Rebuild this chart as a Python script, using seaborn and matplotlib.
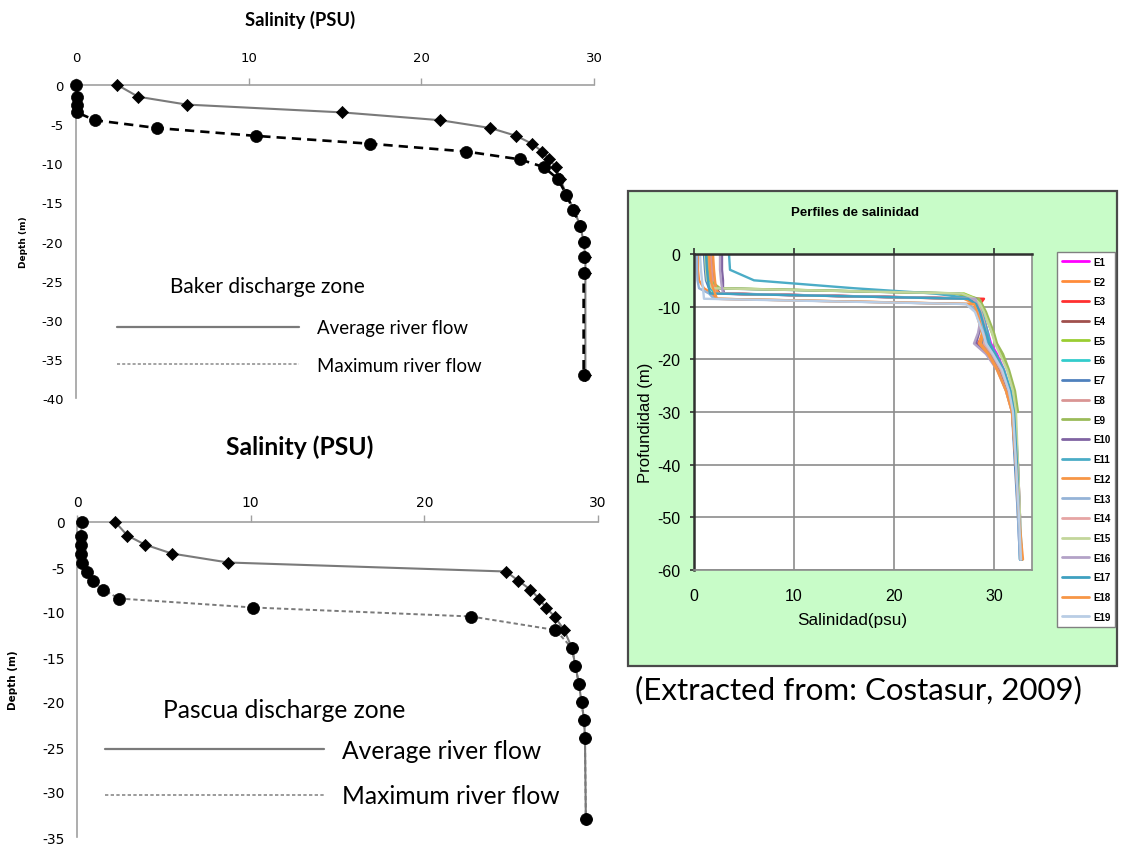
import numpy as np
import pandas as pd
import matplotlib
matplotlib.use("Agg")
import matplotlib.pyplot as plt
import seaborn as sns
from matplotlib.lines import Line2D
from matplotlib.patches import Rectangle

# ---------------- data ----------------
# Baker discharge zone
baker_depth = [0, -1.5, -2.5, -3.5, -4.5, -5.5, -6.5, -7.5, -8.5, -9.5, -10.5,
               -12, -14, -16, -18, -20, -22, -24, -37]
baker_avg = [2.4, 3.6, 6.4, 15.4, 21.1, 24.0, 25.5, 26.4, 27.0, 27.4, 27.8,
             28.05, 28.4, 28.85, 29.2, 29.4, 29.5, 29.5, 29.5]
baker_max = [0.0, 0.05, 0.05, 0.05, 1.1, 4.7, 10.4, 17.0, 22.6, 25.7, 27.1,
             27.9, 28.4, 28.8, 29.2, 29.4, 29.4, 29.4, 29.4]

# Pascua discharge zone
pascua_depth = [0, -1.5, -2.5, -3.5, -4.5, -5.5, -6.5, -7.5, -8.5, -9.5, -10.5,
                -12, -14, -16, -18, -20, -22, -24, -33]
pascua_avg = [2.2, 2.9, 3.9, 5.45, 8.7, 24.7, 25.4, 26.1, 26.6, 27.0, 27.5,
              28.05, 28.5, 28.7, 28.9, 29.05, 29.2, 29.25, 29.3]
pascua_max = [0.28, 0.23, 0.23, 0.23, 0.28, 0.58, 0.92, 1.5, 2.4, 10.15, 22.7,
              27.55, 28.5, 28.7, 28.9, 29.05, 29.2, 29.25, 29.3]

# Costasur (2009) salinity profiles
prof_levels = [0, -3, -5, -6.5, -7.5, -8.5, -9.5, -11, -13, -15, -17, -19,
               -22, -26, -30, -40, -50, -58]
E1 = [1.4, 1.5, 1.6, 1.8, 2.0, 27.5, 28.3, 28.7, 29.1, 29.4, 29.7, 30.3, 31.0, 31.6, 32.0, 32.3, 32.5, 32.7]
E2 = [0.4, 0.4, 0.5, 1.0, 1.8, 2.2, 27.6, 28.2, 28.5, 28.8, 29.1, 29.8, 30.6, 31.3, 31.8, 32.2, 32.5, 32.8]
E3 = [1.6, 1.7, 1.8, 2.0, 2.4, 29.0, 28.6, 28.7, 28.9, 29.0, 28.4, 29.6, 30.7, 31.5, 32.0, 32.4, 32.6]
E4 = [1.8, 1.9, 2.0, 2.2, 2.6, 28.0, 28.4, 28.6, 28.8, 29.1, 28.6, 29.4, 30.5, 31.4, 31.9, 32.3, 32.5, 32.7]
E5 = [1.2, 1.3, 1.5, 2.3, 27.0, 28.3, 28.7, 29.0, 29.4, 29.8, 30.2, 30.8, 31.4, 32.0, 32.3]
E6 = [1.3, 1.4, 1.5, 1.7, 2.0, 27.8, 28.5, 28.8, 29.0, 29.3, 29.6, 30.1, 30.9, 31.6, 32.0, 32.3, 32.5, 32.6]
E7 = [1.0, 1.1, 1.2, 1.5, 26.5, 27.8, 28.3, 28.6, 28.9, 29.0, 28.8, 29.7, 30.6, 31.4, 31.8, 32.1, 32.4, 32.6]
E8 = [1.7, 1.8, 1.9, 2.1, 2.5, 27.3, 28.2, 28.5, 28.8, 29.1, 29.3, 29.9, 30.7, 31.4, 31.9, 32.2, 32.5, 32.7]
E9 = [1.3, 1.4, 1.6, 2.6, 26.0, 28.5, 28.8, 29.2, 29.6, 30.0, 30.3, 30.9, 31.5, 32.1, 32.4]
E10 = [2.8, 2.8, 2.9, 2.9, 3.0, 28.2, 28.4, 28.6, 28.7, 28.5, 28.2, 29.3, 30.4, 31.3, 31.9, 32.3, 32.5, 32.7]
E11 = [3.5, 3.6, 6.0, 16.0, 24.0, 28.0, 28.5, 28.8, 29.1, 29.4, 29.6, 30.2, 31.0, 31.7, 32.1, 32.4, 32.6, 32.8]
E12 = [1.9, 2.0, 2.1, 2.2, 2.4, 27.0, 28.1, 28.4, 28.7, 28.9, 28.7, 29.5, 30.4, 31.2, 31.8, 32.2, 32.5, 32.8]
E13 = [0.3, 0.3, 0.35, 0.5, 1.5, 2.0, 27.5, 28.3, 28.7, 29.0, 29.4, 30.0, 30.8, 31.5, 31.9, 32.2, 32.4, 32.6]
E14 = [1.5, 1.6, 1.7, 1.9, 2.2, 27.9, 28.4, 28.7, 29.0, 29.2, 29.0, 29.8, 30.7, 31.5, 31.9, 32.3, 32.6, 32.7]
E15 = [1.1, 1.2, 1.3, 1.8, 26.8, 28.1, 28.6, 29.0, 29.4, 29.8, 30.1, 30.6, 31.3, 31.9, 32.2, 32.4, 32.6, 32.7]
E16 = [2.6, 2.6, 2.7, 2.8, 2.9, 28.1, 28.3, 28.5, 28.6, 28.4, 28.0, 29.2, 30.3, 31.2, 31.8, 32.2, 32.5, 32.7]
E17 = [1.2, 1.3, 1.4, 1.5, 1.6, 27.4, 28.2, 28.6, 28.9, 29.2, 29.5, 30.1, 30.9, 31.6, 32.0, 32.3, 32.5, 32.8]
E18 = [1.5, 1.6, 1.7, 1.9, 2.1, 2.3, 28.0, 28.3, 28.6, 28.8, 28.5, 29.4, 30.3, 31.2, 31.8, 32.2, 32.5, 32.9]
E19 = [0.6, 0.7, 0.8, 0.9, 0.95, 1.0, 27.2, 28.1, 28.5, 28.9, 29.2, 29.9, 30.8, 31.5, 31.9, 32.2, 32.5, 32.7]
stations = ["E1", "E2", "E3", "E4", "E5", "E6", "E7", "E8", "E9", "E10",
            "E11", "E12", "E13", "E14", "E15", "E16", "E17", "E18", "E19"]
station_values = [E1, E2, E3, E4, E5, E6, E7, E8, E9, E10,
                  E11, E12, E13, E14, E15, E16, E17, E18, E19]
station_colors = ["#FF00FF", "#FF8C3A", "#FF3030", "#A0504D", "#9ACD32",
                  "#33CCCC", "#4F81BD", "#D99594", "#9BBB59", "#8064A2",
                  "#4BACC6", "#F79646", "#95B3D7", "#E6A5A4", "#C3D69B",
                  "#B3A2C7", "#3FA0C0", "#F79646", "#B9CDE5"]

salinity_ticks = [0, 10, 20, 30]

# ---------------- style ----------------
sns.set_theme(style="white")
plt.rcParams["font.family"] = ["DejaVu Sans"]
plt.rcParams["axes.unicode_minus"] = False
plt.rcParams["text.color"] = "black"
plt.rcParams["xtick.color"] = "black"
plt.rcParams["ytick.color"] = "black"
plt.rcParams["axes.labelcolor"] = "black"

W, H = 1125, 845
fig = plt.figure(figsize=(W / 100, H / 100), dpi=100)
fig.patch.set_facecolor("white")


def rect(x0, y0, x1, y1):
    return [x0 / W, 1 - y1 / H, (x1 - x0) / W, (y1 - y0) / H]


def depth_panel(ax, depth, avg, mx, ymin, max_color, max_lw, max_ls,
                tick_size, xpad, ylabel_x, ylabel_size):
    d_avg = pd.DataFrame({"sal": avg, "depth": depth})
    d_max = pd.DataFrame({"sal": mx, "depth": depth})
    sns.lineplot(data=d_avg, x="sal", y="depth", sort=False, estimator=None,
                 color="#7a7a7a", lw=1.5, ax=ax, zorder=2)
    sns.lineplot(data=d_max, x="sal", y="depth", sort=False, estimator=None,
                 color=max_color, lw=max_lw, linestyle=max_ls, ax=ax, zorder=2)
    sns.scatterplot(data=d_avg, x="sal", y="depth", marker="D", s=38,
                    color="black", edgecolor="black", linewidth=0.5,
                    ax=ax, zorder=3, clip_on=False)
    sns.scatterplot(data=d_max, x="sal", y="depth", marker="o", s=75,
                    color="black", edgecolor="black", linewidth=0.5,
                    ax=ax, zorder=3, clip_on=False)
    ax.set_xlim(0, 30)
    ax.set_ylim(ymin, 0)
    ax.set_xticks(salinity_ticks)
    ax.set_yticks(list(range(0, ymin - 1, -5)))
    ax.xaxis.tick_top()
    ax.tick_params(axis="x", direction="out", length=5, width=1,
                   color="#A0A0A0", pad=xpad, labelsize=tick_size)
    ax.tick_params(axis="y", length=0, pad=9, labelsize=tick_size)
    for s in ["right", "bottom"]:
        ax.spines[s].set_visible(False)
    for s in ["top", "left"]:
        ax.spines[s].set_color("#A0A0A0")
        ax.spines[s].set_linewidth(1.2)
    ax.set_xlabel("")
    ax.set_ylabel("Depth (m)", fontsize=ylabel_size, fontweight="bold")
    ax.yaxis.set_label_coords(ylabel_x, 0.5)
    ax.set_facecolor("white")


# ---------------- top-left: Baker ----------------
ax1 = fig.add_axes(rect(76, 86, 594, 399))
depth_panel(ax1, baker_depth, baker_avg, baker_max, -40, "black", 1.9,
            (0, (3.5, 2.3)), 9.5, 10, -0.093, 6.5)
fig.text(300 / W, 1 - 20 / H, "Salinity (PSU)", ha="center", va="center",
         fontsize=13.2, fontweight="bold", family="Lato")
ax1.text(0.181, 0.358, "Baker discharge zone", transform=ax1.transAxes,
         ha="left", va="center", fontsize=15, family="Lato")
h_avg = Line2D([], [], color="#7a7a7a", lw=1.6)
h_max = Line2D([], [], color="#8a8a8a", lw=1.1, linestyle=(0, (2, 1.4)))
ax1.legend([h_avg, h_max], ["Average river flow", "Maximum river flow"],
           loc="upper left", bbox_to_anchor=(0.079, 0.251), frameon=False,
           prop={"family": "Lato", "size": 13.4}, handlelength=9.8,
           handletextpad=0.97, labelspacing=1.08, borderpad=0, borderaxespad=0)

# ---------------- bottom-left: Pascua ----------------
ax2 = fig.add_axes(rect(77, 523, 598, 838))
depth_panel(ax2, pascua_depth, pascua_avg, pascua_max, -35, "#7a7a7a", 1.4,
            (0, (2.2, 1.5)), 10, 4, -0.113, 7.5)
fig.text(300 / W, 1 - 447 / H, "Salinity (PSU)", ha="center", va="center",
         fontsize=17.8, fontweight="bold", family="Lato")
ax2.text(0.165, 0.406, "Pascua discharge zone", transform=ax2.transAxes,
         ha="left", va="center", fontsize=17.7, family="Lato")
h_avg2 = Line2D([], [], color="#7a7a7a", lw=1.6)
h_max2 = Line2D([], [], color="#8a8a8a", lw=1.2, linestyle=(0, (2, 1.4)))
ax2.legend([h_avg2, h_max2], ["Average river flow", "Maximum river flow"],
           loc="upper left", bbox_to_anchor=(0.054, 0.311), frameon=False,
           prop={"family": "Lato", "size": 17.7}, handlelength=8.9,
           handletextpad=0.73, labelspacing=0.91, borderpad=0, borderaxespad=0)

# ---------------- right: Costasur profiles ----------------
fig.patches.append(Rectangle((628 / W, 1 - 667 / H), (1117 - 628) / W,
                             (667 - 192) / H, transform=fig.transFigure,
                             facecolor="#C8FCC8", edgecolor="#4a4a4a",
                             lw=1.6, zorder=-5))
ax3 = fig.add_axes(rect(694, 255, 1032, 571))
rows = []
for name, vals in zip(stations, station_values):
    for s, d in zip(vals, prof_levels):
        rows.append((name, s, d))
prof_df = pd.DataFrame(rows, columns=["station", "sal", "depth"])
palette = dict(zip(stations, station_colors))
sns.lineplot(data=prof_df, x="sal", y="depth", hue="station", palette=palette,
             hue_order=stations, sort=False, estimator=None, lw=1.7,
             legend=False, ax=ax3)
ax3.set_facecolor("white")
ax3.set_xlim(0, 33.8)
ax3.set_ylim(-60, 0)
ax3.set_xticks(salinity_ticks)
ax3.set_yticks(list(range(0, -61, -10)))
ax3.grid(True, color="#8C8C8C", lw=1.2)
ax3.set_axisbelow(True)
ax3.tick_params(axis="x", top=True, bottom=False, labeltop=False,
                labelbottom=True, direction="out", length=4, width=1.2,
                color="#303030", pad=9, labelsize=11.5)
ax3.tick_params(axis="y", left=True, direction="out", length=3, width=1.2,
                color="#303030", pad=7, labelsize=11.5)
for lbl in ax3.get_xticklabels() + ax3.get_yticklabels():
    lbl.set_family("Liberation Sans")
for s in ["left", "top"]:
    ax3.spines[s].set_color("#303030")
    ax3.spines[s].set_linewidth(1.8)
for s in ["right", "bottom"]:
    ax3.spines[s].set_color("#8C8C8C")
    ax3.spines[s].set_linewidth(1.2)
ax3.set_xlabel("Salinidad(psu)", fontsize=12.3, family="Liberation Sans")
ax3.set_ylabel("Profundidad (m)", fontsize=12, family="Liberation Sans")
ax3.xaxis.set_label_coords(0.467, -0.133)
ax3.yaxis.set_label_coords(-0.12, 0.47)
fig.text(855 / W, 1 - 213 / H, "Perfiles de salinidad", ha="center",
         va="center", fontsize=9.5, fontweight="bold", family="Liberation Sans")

handles = [Line2D([], [], color=c, lw=2) for c in station_colors]
leg = fig.legend(handles, stations, loc="upper left",
                 bbox_to_anchor=(1057 / W, 1 - 253 / H), frameon=True,
                 fancybox=False, edgecolor="#808080", facecolor="white",
                 framealpha=1, prop={"family": "Liberation Sans", "size": 7,
                                     "weight": "bold"},
                 handlelength=2.8, handletextpad=0.4, labelspacing=1.0,
                 borderpad=0.5, borderaxespad=0)
leg.get_frame().set_linewidth(1.0)

fig.text(858 / W, 1 - 690 / H, "(Extracted from: Costasur, 2009)",
         ha="center", va="center", fontsize=22.5, family="Lato")

fig.savefig("out.png", dpi=100)
